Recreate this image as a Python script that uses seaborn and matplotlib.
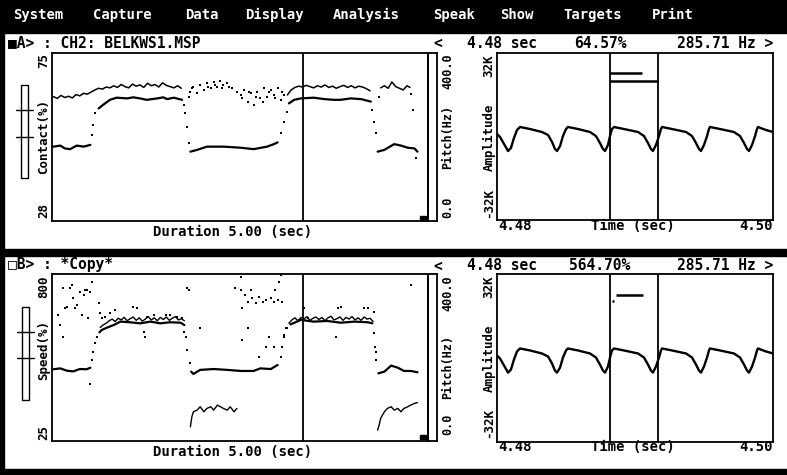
import matplotlib
matplotlib.use("Agg")
import matplotlib.pyplot as plt
from matplotlib.patches import Rectangle
import seaborn as sns

# ---------------- data ----------------
# Panel A, left plot: contact (%) trace, steady parts (one list per segment)
contact_a_t = [
    [0.02, 0.11, 0.17, 0.24, 0.33, 0.42, 0.51],
    [0.62, 0.68, 0.77, 0.86, 1.00, 1.08, 1.17, 1.26, 1.40, 1.48, 1.53, 1.62, 1.73],
    [1.84, 1.93, 2.06, 2.28, 2.51, 2.68, 2.86, 2.95, 3.00],
    [3.15, 3.22, 3.31, 3.48, 3.62, 3.75, 3.84, 3.97, 4.11, 4.24],
    [4.33, 4.42, 4.55, 4.64, 4.73, 4.82, 4.86],
]
contact_a_v = [
    [48.8, 49.1, 48.3, 48.1, 49.1, 48.8, 49.3],
    [59.5, 60.5, 61.9, 62.5, 62.3, 62.6, 62.3, 61.9, 62.3, 62.6, 62.1, 62.5, 61.9],
    [47.4, 47.9, 48.8, 48.8, 48.5, 48.1, 48.8, 49.5, 50.0],
    [60.9, 61.9, 62.3, 62.5, 62.1, 61.9, 61.9, 62.3, 62.1, 61.4],
    [47.4, 47.9, 49.5, 49.1, 48.5, 48.3, 47.4],
]
# transition dots
contact_a_dot_t = [0.53, 0.55, 0.57, 1.75, 1.77, 1.80, 1.82, 3.04, 3.08, 3.12,
                   4.26, 4.28, 4.31, 4.84]
contact_a_dot_v = [52.1, 54.9, 58.1, 60.5, 58.1, 54.4, 49.7, 52.5, 55.8, 58.6,
                   59.1, 55.8, 52.5, 45.5]

# Panel A, left plot: pitch (Hz) trace
pitch_a_t = [
    [0.02, 0.07, 0.12, 0.17, 0.22, 0.27, 0.32, 0.37, 0.42, 0.47, 0.52, 0.57,
     0.62, 0.67, 0.72, 0.77, 0.82, 0.87, 0.92, 0.97, 1.02, 1.07, 1.12, 1.17,
     1.22, 1.27, 1.32, 1.37, 1.42, 1.47, 1.52, 1.57, 1.62, 1.67, 1.72],
    [3.13, 3.18, 3.23, 3.28, 3.33, 3.38, 3.43, 3.48, 3.53, 3.58, 3.63, 3.68,
     3.73, 3.78, 3.83, 3.88, 3.93, 3.98, 4.03, 4.08, 4.13, 4.18, 4.23],
    [4.37, 4.42, 4.47, 4.52, 4.57, 4.62, 4.67, 4.72, 4.76],
]
pitch_a_v = [
    [296, 292, 299, 294, 297, 293, 301, 298, 304, 302, 307, 312,
     316, 314, 319, 317, 322, 318, 325, 320, 317, 326, 321, 324,
     318, 328, 322, 325, 319, 329, 323, 320, 317, 322, 316],
    [300, 312, 318, 321, 319, 323, 320, 317, 322, 319, 324, 318,
     321, 316, 320, 323, 318, 322, 317, 321, 319, 315, 310],
    [317, 322, 316, 331, 320, 316, 312, 322, 318],
]
pitch_a_dot_t = [1.82, 1.84, 1.86, 1.88, 1.93, 1.97, 2.02, 2.06, 2.08, 2.11,
                 2.15, 2.17, 2.20, 2.24, 2.26, 2.28, 2.33, 2.35, 2.40, 2.46,
                 2.51, 2.53, 2.55, 2.60, 2.62, 2.64, 2.68, 2.71, 2.73, 2.77,
                 2.80, 2.82, 2.86, 2.88, 2.91, 2.95, 2.97, 3.00, 3.04, 3.06,
                 3.08, 4.35, 4.77, 4.80]
pitch_a_dot_v = [296, 308, 316, 320, 304, 324, 312, 328, 320, 316,
                 332, 324, 320, 333, 316, 324, 328, 320, 316, 308,
                 300, 292, 312, 284, 308, 304, 276, 296, 308, 292,
                 284, 316, 296, 308, 312, 300, 292, 316, 288, 308,
                 300, 296, 302, 265]

# Panel B, left plot: speed (%) trace
speed_b_t = [
    [0.02, 0.11, 0.20, 0.28, 0.37, 0.46, 0.51],
    [0.63, 0.66, 0.73, 0.82, 0.91, 1.04, 1.17, 1.31, 1.44, 1.57, 1.71, 1.76],
    [1.85, 1.88, 1.97, 2.15, 2.33, 2.51, 2.68, 2.77, 2.91, 3.00],
    [3.17, 3.31, 3.48, 3.66, 3.84, 4.02, 4.20, 4.26],
    [4.34, 4.42, 4.51, 4.60, 4.68, 4.77, 4.86],
]
speed_b_v = [
    [358, 362, 351, 348, 359, 358, 365],
    [529, 540, 551, 563, 579, 576, 571, 579, 571, 576, 574, 563],
    [347, 336, 355, 359, 355, 350, 350, 362, 359, 378],
    [566, 587, 579, 582, 574, 579, 576, 571],
    [339, 347, 375, 365, 350, 350, 344],
]
speed_b_dot_t = [0.53, 0.55, 0.57, 0.60, 1.78, 1.80, 1.83, 3.04, 3.06, 3.09, 3.13,
                 4.28, 4.30, 4.31]
speed_b_dot_v = [401, 440, 478, 509, 509, 447, 385, 416, 463, 509, 548,
                 525, 463, 401]

# Panel B, left plot: pitch (Hz) trace
pitch_b_t = [
    [0.64, 0.68, 0.72, 0.76, 0.80, 0.84, 0.88, 0.92, 0.96, 1.00, 1.04, 1.08,
     1.12, 1.16, 1.20, 1.24, 1.28, 1.32, 1.36, 1.40, 1.44, 1.48, 1.52, 1.56,
     1.60, 1.64, 1.68, 1.72, 1.76],
    [3.15, 3.19, 3.23, 3.27, 3.31, 3.35, 3.39, 3.43, 3.47, 3.51, 3.55, 3.59,
     3.63, 3.67, 3.71, 3.75, 3.79, 3.83, 3.87, 3.91, 3.95, 3.99, 4.03, 4.07,
     4.11, 4.15, 4.19, 4.23, 4.27],
    [1.84, 1.86, 1.88, 1.93, 1.97, 2.02, 2.06, 2.11, 2.15, 2.20, 2.24, 2.28,
     2.33, 2.37, 2.42, 2.46],
    [4.33, 4.35, 4.37, 4.42, 4.46, 4.51, 4.55, 4.60, 4.64, 4.68, 4.73, 4.77,
     4.82, 4.86],
]
pitch_b_v = [
    [272, 278, 282, 288, 292, 286, 294, 290, 296, 288, 293, 297,
     289, 295, 287, 292, 298, 290, 295, 288, 296, 291, 297, 289,
     294, 298, 290, 293, 288],
    [282, 290, 295, 288, 296, 292, 298, 289, 294, 297, 291, 296,
     288, 295, 299, 290, 293, 297, 289, 296, 292, 298, 290, 295,
     289, 297, 292, 294, 286],
    [34, 58, 70, 74, 82, 70, 78, 82, 74, 86, 82, 78, 74, 82, 70, 78],
    [26, 38, 54, 70, 78, 82, 74, 78, 70, 78, 82, 86, 90, 92],
]
pitch_b_dot_t = [0.08, 0.11, 0.15, 0.17, 0.20, 0.24, 0.26, 0.28, 0.31, 0.33,
                 0.37, 0.40, 0.42, 0.44, 0.46, 0.48, 0.51, 0.53, 0.62, 0.64,
                 0.66, 0.71, 0.77, 0.84, 0.51, 0.15,
                 1.08, 1.13, 1.26, 1.35, 1.51, 1.57, 1.66, 1.73, 1.22, 1.24, 1.75,
                 1.80, 1.82, 1.97, 2.44, 2.51, 2.53, 2.57, 2.60, 2.64, 2.66,
                 2.71, 2.75, 2.80, 2.84, 2.91, 2.95, 2.97, 3.00, 3.02, 3.04,
                 3.06, 2.60, 2.53, 2.75, 2.84, 2.88, 2.95, 3.08, 3.11, 2.51,
                 3.35, 3.40, 3.80, 3.84, 4.15, 4.20, 4.28, 3.77, 4.31, 4.77]
pitch_b_dot_v = [302, 278, 366, 318, 322, 366, 374, 342, 318, 326,
                 358, 302, 350, 362, 362, 294, 358, 382, 330, 306,
                 294, 298, 306, 314, 136, 250,
                 322, 318, 298, 302, 302, 302, 298, 294, 262, 250, 262,
                 366, 362, 270, 366, 362, 318, 350, 334, 362, 342,
                 330, 346, 334, 338, 342, 334, 362, 338, 382, 398,
                 334, 270, 242, 202, 226, 250, 226, 254, 270, 394,
                 318, 294, 318, 322, 318, 318, 310, 250, 214, 374]

cursor_t = 3.34

# Right plots: waveform, time in ms, amplitude in K
wave_ms = [4480.00, 4480.22, 4480.51, 4480.80, 4481.01, 4481.23, 4481.45, 4481.67,
           4482.39, 4483.26, 4483.70, 4483.99, 4484.20, 4484.35, 4484.57, 4484.78,
           4485.00, 4485.14, 4485.87, 4486.74, 4487.17, 4487.46, 4487.68, 4487.83,
           4488.04, 4488.19, 4488.33, 4488.48, 4489.20, 4490.22, 4490.65, 4490.94,
           4491.16, 4491.30, 4491.52, 4491.74, 4491.88, 4491.96, 4492.68, 4493.70,
           4494.13, 4494.42, 4494.64, 4494.78, 4495.00, 4495.22, 4495.36, 4495.43,
           4496.16, 4497.17, 4497.61, 4497.90, 4498.12, 4498.26, 4498.48, 4498.70,
           4498.84, 4498.91, 4499.49, 4500.00]
wave_k = [0.96, -0.19, -2.87, -5.56, -4.41, -0.57, 2.49, 3.64,
          2.87, 1.72, 0.57, -2.11, -4.79, -5.56, -3.64, 0.19,
          2.87, 3.64, 2.87, 1.72, 0.19, -2.49, -4.79, -5.56,
          -3.26, 0.19, 2.87, 3.64, 2.87, 1.72, 0.19, -2.49,
          -4.79, -5.56, -3.26, 0.19, 2.87, 3.64, 2.87, 1.72,
          0.19, -2.49, -4.79, -5.56, -3.26, 0.19, 2.87, 3.64,
          2.87, 1.72, 0.19, -2.49, -4.79, -5.56, -3.26, 0.19,
          2.87, 3.64, 2.49, 1.72]
wave_cursors = [4488.2, 4491.7]
mark_a_k = [24.3, 21.3]
mark_a_end = [4490.5, 4491.7]
mark_b_k = [24.0, 21.6]
mark_b_start = [4488.6, 4488.3]
mark_b_end = [4490.6, 4488.5]

menu_items = ["System", "Capture", "Data", "Display", "Analysis",
              "Speak", "Show", "Targets", "Print"]
menu_x = [13, 93, 185, 245, 333, 433, 500, 563, 652]

# ---------------- drawing ----------------
W, H = 787, 475
sns.set_theme(style="white")
plt.rcParams["font.family"] = ["DejaVu Sans Mono", "DejaVu Sans"]

fig = plt.figure(figsize=(W / 100, H / 100), dpi=100)
fig.patch.set_facecolor("white")

bg = fig.add_axes([0, 0, 1, 1])
bg.set_xlim(0, W)
bg.set_ylim(H, 0)
bg.axis("off")


def box(x0, y0, x1, y1):
    ax = fig.add_axes([x0 / W, 1 - y1 / H, (x1 - x0) / W, (y1 - y0) / H])
    ax.set_facecolor("none")
    ax.set_xticks([])
    ax.set_yticks([])
    for s in ax.spines.values():
        s.set_visible(True)
        s.set_color("black")
        s.set_linewidth(1.3)
    return ax


def txt(x, y, s, size=10, color="black", ha="left", rot=0):
    bg.text(x, y, s, fontsize=size, fontweight="bold", color=color,
            ha=ha, va="center", rotation=rot)


def segs(ax, ts, vs, lw):
    for t, v in zip(ts, vs):
        sns.lineplot(x=t, y=v, ax=ax, color="black", linewidth=lw,
                     sort=False, estimator=None)


def dots(ax, t, v, s=2.5):
    sns.scatterplot(x=t, y=v, ax=ax, color="black", s=s, marker="s",
                    linewidth=0)


# screen chrome
bg.add_patch(Rectangle((0, 0), W, 33, color="black"))
bg.add_patch(Rectangle((0, 33), 4, H - 33, color="black"))
bg.add_patch(Rectangle((0, 249), W, 7, color="black"))
bg.add_patch(Rectangle((0, 469), W, 5, color="black"))
for name, x in zip(menu_items, menu_x):
    txt(x, 15, name, size=10, color="white")

# headers
txt(8, 43, "■A> : CH2: BELKWS1.MSP", size=10.5)
txt(8, 264, "□B> : *Copy*", size=10.5)
for y, pct in [(43, "64.57%"), (266, "564.70%")]:
    txt(433, y, "<", size=10.5)
    txt(467, y, "4.48 sec", size=10.5)
    txt(600, y, pct, size=10.5, ha="center")
    txt(773, y, "285.71 Hz >", size=10.5, ha="right")

# sliders
for x0, y0, y1, ticks in [(21, 85, 178, (110, 137)), (22, 307, 400, (332, 358))]:
    bg.add_patch(Rectangle((x0, y0), 7, y1 - y0, fill=False, ec="black", lw=1))
    for ty in ticks:
        bg.plot([x0 - 5, x0 + 12], [ty, ty], color="black", lw=1)

# small corner marks
bg.add_patch(Rectangle((420, 216), 6, 4, color="black"))
bg.add_patch(Rectangle((420, 435), 7, 4, color="black"))

# side labels
txt(44, 61, "75", size=9, ha="center", rot=90)
txt(44, 137, "Contact(%)", size=9, ha="center", rot=90)
txt(44, 211, "28", size=9, ha="center", rot=90)
txt(44, 287, "800", size=9, ha="center", rot=90)
txt(44, 350, "Speed(%)", size=9, ha="center", rot=90)
txt(44, 432, "25", size=9, ha="center", rot=90)
for y_top, y_mid, y_bot in [(71, 137, 207), (293, 367, 424)]:
    txt(448, y_top, "400.0", size=8.5, ha="center", rot=90)
    txt(448, y_mid, "Pitch(Hz)", size=8.5, ha="center", rot=90)
    txt(448, y_bot, "0.0", size=8.5, ha="center", rot=90)
for y_top, y_mid, y_bot in [(66, 137, 203), (287, 358, 423)]:
    txt(489, y_top, "32K", size=9, ha="center", rot=90)
    txt(489, y_mid, "Amplitude", size=9, ha="center", rot=90)
    txt(489, y_bot, "-32K", size=9, ha="center", rot=90)
for y in (232, 452):
    txt(233, y, "Duration 5.00 (sec)", size=10, ha="center")
for y in (226, 447):
    txt(498, y, "4.48", size=10)
    txt(633, y, "Time (sec)", size=10, ha="center")
    txt(773, y, "4.50", size=10, ha="right")

# ---- panel A left
axa = box(52, 53, 428, 221)
axa.set_xlim(0, 5)
axa.set_ylim(28, 75)
segs(axa, contact_a_t, contact_a_v, 1.6)
dots(axa, contact_a_dot_t, contact_a_dot_v)
axa.axvline(cursor_t, color="black", lw=1.3)
axa2 = axa.twinx()
axa2.axis("off")
axa2.set_ylim(0, 400)
segs(axa2, pitch_a_t, pitch_a_v, 1.1)
dots(axa2, pitch_a_dot_t, pitch_a_dot_v)
box(428, 53, 437, 221)

# ---- panel B left
axb = box(52, 274, 428, 441)
axb.set_xlim(0, 5)
axb.set_ylim(25, 800)
segs(axb, speed_b_t, speed_b_v, 1.6)
dots(axb, speed_b_dot_t, speed_b_dot_v)
axb.axvline(cursor_t, color="black", lw=1.3)
axb2 = axb.twinx()
axb2.axis("off")
axb2.set_ylim(0, 400)
segs(axb2, pitch_b_t, pitch_b_v, 1.0)
dots(axb2, pitch_b_dot_t, pitch_b_dot_v)
box(428, 274, 437, 441)

# ---- waveforms
for (y0, y1, mk, ms0, ms1) in [(53, 220, mark_a_k, [wave_cursors[0]] * 2, mark_a_end),
                               (274, 442, mark_b_k, mark_b_start, mark_b_end)]:
    axw = box(497, y0, 773, y1)
    axw.set_xlim(4480, 4500)
    axw.set_ylim(-32, 32)
    sns.lineplot(x=wave_ms, y=wave_k, ax=axw, color="black", linewidth=1.7,
                 sort=False, estimator=None)
    for c in wave_cursors:
        axw.axvline(c, color="black", lw=1.3)
    axw.hlines(mk, ms0, ms1, color="black", lw=1.8)

fig.savefig("out.png", dpi=100, facecolor="white")
